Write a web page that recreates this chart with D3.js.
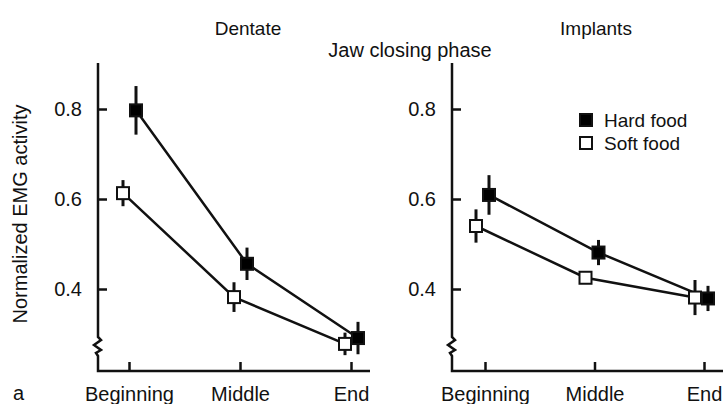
<!DOCTYPE html>
<html>
<head>
<meta charset="utf-8">
<script src="https://cdn.jsdelivr.net/npm/d3@7"></script>
<style>
  html, body { margin: 0; padding: 0; background: #fff; }
  svg { display: block; }
  text { font-family: "Liberation Sans", Arial, Helvetica, sans-serif; fill: #111; }
</style>
</head>
<body>
<svg id="chart" width="723" height="404"></svg>
<script>
// ---- data ----
const categories = ["Beginning", "Middle", "End"];
const yTicks = [0.4, 0.6, 0.8];
const seriesNames = ["Hard food", "Soft food"];

const dentateHard = [0.797, 0.456, 0.291];
const dentateHardErr = [0.054, 0.036, 0.036];
const dentateSoft = [0.613, 0.382, 0.278];
const dentateSoftErr = [0.029, 0.033, 0.025];

const implantHard = [0.609, 0.481, 0.379];
const implantHardErr = [0.044, 0.028, 0.028];
const implantSoft = [0.540, 0.425, 0.381];
const implantSoftErr = [0.037, 0.012, 0.039];

// ---- layout ----
const svg = d3.select("#chart");
svg.append("rect").attr("width", 723).attr("height", 404).attr("fill", "#fff");

const yTop = 63, yBottom = 371;
const y = d3.scaleLinear().domain([0.4, 0.8]).range([289, 109]);

const panels = [
  { title: "Dentate", titleX: 248, axisX: 98, axisEnd: 370, range: [129, 351],
    hard: dentateHard, hardErr: dentateHardErr, soft: dentateSoft, softErr: dentateSoftErr,
    dodgeHard: 7, dodgeSoft: -6 },
  { title: "Implants", titleX: 596, axisX: 452, axisEnd: 723, range: [485, 704],
    hard: implantHard, hardErr: implantHardErr, soft: implantSoft, softErr: implantSoftErr,
    dodgeHard: 4, dodgeSoft: -9 }
];

const SW = 2.5;
const MS = 12;

panels.forEach(p => {
  const g = svg.append("g");
  const x = d3.scalePoint().domain(categories).range(p.range);

  // title
  g.append("text").attr("x", p.titleX).attr("y", 35)
    .attr("text-anchor", "middle").attr("font-size", 19).text(p.title);

  // y axis line with break zigzag
  const ax = p.axisX;
  const path = d3.path();
  path.moveTo(ax, yTop);
  path.lineTo(ax, 337);
  path.lineTo(ax + 3, 340);
  path.lineTo(ax - 4, 345);
  path.lineTo(ax + 3, 350);
  path.lineTo(ax - 2, 353);
  path.lineTo(ax, 356);
  path.lineTo(ax, yBottom);
  path.lineTo(p.axisEnd, yBottom);
  g.append("path").attr("d", path.toString())
    .attr("fill", "none").attr("stroke", "#111").attr("stroke-width", SW)
    .attr("stroke-linejoin", "miter");

  // y axis ticks/labels
  const yAxis = d3.axisLeft(y).tickValues(yTicks).tickFormat(d3.format(".1f"))
    .tickSizeInner(-9).tickSizeOuter(0).tickPadding(16);
  const yg = g.append("g").attr("transform", `translate(${ax},0)`).call(yAxis);
  yg.select(".domain").remove();
  yg.selectAll(".tick line").attr("stroke", "#111").attr("stroke-width", SW);
  yg.selectAll(".tick text").attr("font-size", 20).attr("font-family", "Liberation Sans, Arial, sans-serif").attr("fill", "#111");

  // x axis ticks/labels
  const xAxis = d3.axisBottom(x).tickSizeInner(-9).tickSizeOuter(0).tickPadding(16);
  const xg = g.append("g").attr("transform", `translate(0,${yBottom})`).call(xAxis);
  xg.select(".domain").remove();
  xg.selectAll(".tick line").attr("stroke", "#111").attr("stroke-width", SW);
  xg.selectAll(".tick text").attr("font-size", 20).attr("font-family", "Liberation Sans, Arial, sans-serif").attr("fill", "#111");

  const series = [
    { vals: p.hard, errs: p.hardErr, dodge: p.dodgeHard, fill: "#000" },
    { vals: p.soft, errs: p.softErr, dodge: p.dodgeSoft, fill: "#fff" }
  ];

  const line = d3.line().x(d => d[0]).y(d => d[1]);
  series.forEach(s => {
    const pts = categories.map((c, i) => [x(c) + s.dodge, y(s.vals[i])]);
    g.append("path").attr("d", line(pts)).attr("fill", "none")
      .attr("stroke", "#111").attr("stroke-width", SW);
  });
  series.forEach(s => {
    categories.forEach((c, i) => {
      const cx = x(c) + s.dodge;
      g.append("line").attr("x1", cx).attr("x2", cx)
        .attr("y1", y(s.vals[i] - s.errs[i])).attr("y2", y(s.vals[i] + s.errs[i]))
        .attr("stroke", "#111").attr("stroke-width", 3);
    });
  });
  series.forEach(s => {
    categories.forEach((c, i) => {
      const cx = x(c) + s.dodge, cy = y(s.vals[i]);
      g.append("rect").attr("x", cx - MS / 2).attr("y", cy - MS / 2)
        .attr("width", MS).attr("height", MS)
        .attr("fill", s.fill).attr("stroke", "#111").attr("stroke-width", 2);
    });
  });
});

// shared labels
svg.append("text").attr("x", 410).attr("y", 57).attr("text-anchor", "middle")
  .attr("font-size", 20).text("Jaw closing phase");

svg.append("text").attr("transform", "translate(27,214) rotate(-90)")
  .attr("text-anchor", "middle").attr("font-size", 20).text("Normalized EMG activity");

svg.append("text").attr("x", 13).attr("y", 400).attr("font-size", 20).text("a");

// legend
const legend = svg.append("g");
seriesNames.forEach((name, i) => {
  const cy = 120 + i * 23;
  legend.append("rect").attr("x", 580).attr("y", cy - 6).attr("width", 12).attr("height", 12)
    .attr("fill", i === 0 ? "#000" : "#fff").attr("stroke", "#111").attr("stroke-width", 2);
  legend.append("text").attr("x", 604).attr("y", cy + 6.5).attr("font-size", 19).text(name);
});
</script>
</body>
</html>
